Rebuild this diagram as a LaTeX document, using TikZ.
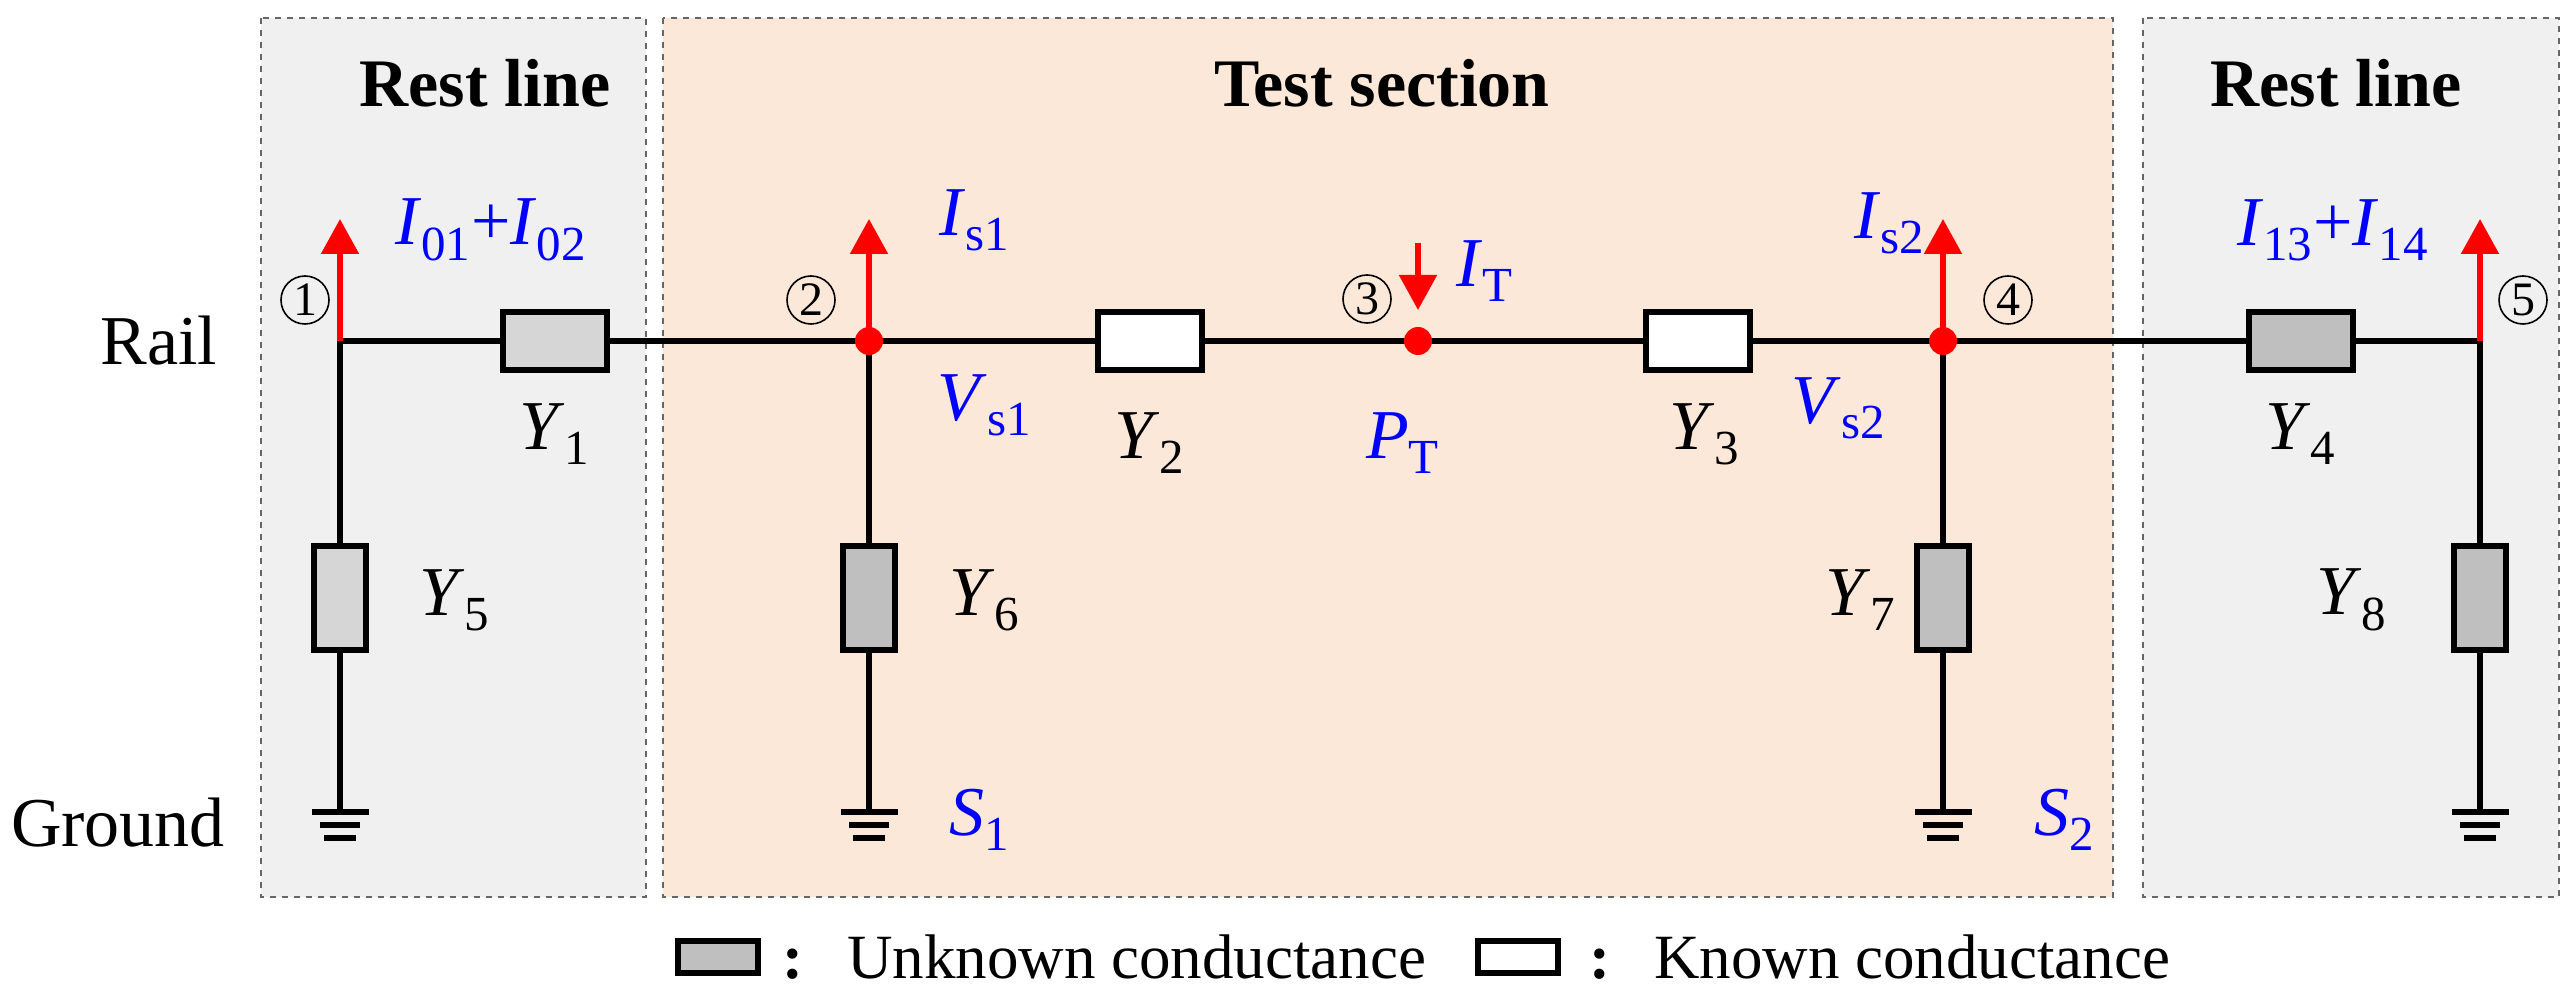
\documentclass[tikz,border=0pt]{standalone}
\usepackage{fontspec}
\setmainfont{Liberation Serif}
\usetikzlibrary{arrows.meta}
\definecolor{restfill}{HTML}{F0F0F0}
\definecolor{testfill}{HTML}{FCE8D8}
\definecolor{unk}{HTML}{BFBFBF}
\definecolor{unkl}{HTML}{D6D6D6}
\begin{document}
\begin{tikzpicture}[x=0.5pt,y=-0.5pt,
  wire/.style={line width=2.7pt,black},
  area/.style={draw=gray!80!black,dashed,line width=1.4pt},
  hres/.style={draw,line width=3pt,minimum width=52pt,minimum height=29pt,inner sep=0pt},
  vres/.style={draw,line width=3pt,minimum width=26pt,minimum height=52pt,inner sep=0pt},
  lab/.style={font=\fontsize{35}{38}\selectfont},
  blab/.style={lab,text=blue},
  title/.style={font=\fontsize{34}{38}\selectfont\bfseries},
  num/.style={circle,draw,line width=0.8pt,inner sep=0pt,minimum size=24pt,font=\fontsize{24}{26}\selectfont},
  cur/.style={red,line width=2.7pt,-{Triangle[width=18.5pt,length=17.5pt]}},
  dot/.style={circle,fill=red,inner sep=0pt,minimum size=14pt},
  gnd/.style={line width=2.8pt,black}
]
\useasboundingbox (0,0) rectangle (2574,999);
% areas
\draw[area,fill=restfill] (261,18) rectangle (646,897);
\draw[area,fill=testfill] (663,18) rectangle (2113,897);
\draw[area,fill=restfill] (2143,18) rectangle (2559,897);
\node[title] (t1) at (485,83) {Rest line};
\node[title] (t2) at (1382,83) {Test section};
\node[title] (t3) at (2336,83) {Rest line};
\node[lab] (rail) at (159,341) {Rail};
\node[lab] (ground) at (118,823) {Ground};
% nodes
\coordinate (n1) at (340,341);
\coordinate (n2) at (869,341);
\coordinate (n3) at (1418,341);
\coordinate (n4) at (1943,341);
\coordinate (n5) at (2480,341);
\node[hres,fill=unkl] (Y1) at (555,341) {};
\node[hres,fill=white] (Y2) at (1150,341) {};
\node[hres,fill=white] (Y3) at (1698,341) {};
\node[hres,fill=unk] (Y4) at (2301,341) {};
\node[vres,fill=unkl] (Y5) at (340,598) {};
\node[vres,fill=unk] (Y6) at (869,598) {};
\node[vres,fill=unk] (Y7) at (1943,598) {};
\node[vres,fill=unk] (Y8) at (2480,598) {};
\coordinate (g1) at (340,812);
\coordinate (g2) at (869,812);
\coordinate (g3) at (1943,812);
\coordinate (g4) at (2480,812);
% wires
\draw[wire] (n1) -- (Y1) -- (n2) -- (Y2) -- (n3) -- (Y3) -- (n4) -- (Y4) -- (n5);
\foreach \a/\r/\g in {n1/Y5/g1,n2/Y6/g2,n4/Y7/g3,n5/Y8/g4}{
  \draw[wire] (\a) -- (\r.north);
  \draw[wire] (\r.south) -- (\g);
  \draw[gnd] ([shift={(-28.5,0)}]\g) -- ([shift={(28.5,0)}]\g);
  \draw[gnd] ([shift={(-20,13)}]\g) -- ([shift={(20,13)}]\g);
  \draw[gnd] ([shift={(-16,26)}]\g) -- ([shift={(16,26)}]\g);
}
% currents
\coordinate (a1) at (340,219);
\coordinate (a2) at (869,219);
\coordinate (a4) at (1943,219);
\coordinate (a5) at (2480,219);
\coordinate (aT) at (1418,243);
\coordinate (bT) at (1418,310);
\draw[cur] (n1) -- (a1);
\draw[cur] (n2) -- (a2);
\draw[cur] (n4) -- (a4);
\draw[cur] (n5) -- (a5);
\draw[cur] (aT) -- (bT);
\node[dot] (d2) at (n2) {};
\node[dot] (d3) at (n3) {};
\node[dot] (d4) at (n4) {};
% numbers
\node[num] (c1) at (305,300) {1};
\node[num] (c2) at (811,300) {2};
\node[num] (c3) at (1367,299) {3};
\node[num] (c4) at (2008,300) {4};
\node[num] (c5) at (2523,300) {5};
% labels
\node[lab] (lY1) at (555,434) {\textit{Y}\textsubscript{1}};
\node[lab] (lY2) at (1150,443) {\textit{Y}\textsubscript{2}};
\node[lab] (lY3) at (1705,434) {\textit{Y}\textsubscript{3}};
\node[lab] (lY4) at (2301,434) {\textit{Y}\textsubscript{4}};
\node[lab] (lY5) at (455,600) {\textit{Y}\textsubscript{5}};
\node[lab] (lY6) at (985,600) {\textit{Y}\textsubscript{6}};
\node[lab] (lY7) at (1861,600) {\textit{Y}\textsubscript{7}};
\node[lab] (lY8) at (2352,600) {\textit{Y}\textsubscript{8}};
\node[blab] (lI1) at (491,230) {\textit{I}\textsubscript{01}+\textit{I}\textsubscript{02}};
\node[blab] (lIs1) at (975,220) {\textit{I}\textsubscript{s1}};
\node[blab] (lVs1) at (985,405) {\textit{V}\textsubscript{s1}};
\node[blab] (lS1) at (980,820) {\textit{S}\textsubscript{1}};
\node[blab] (lIT) at (1485,271) {\textit{I}\textsubscript{T}};
\node[blab] (lPT) at (1403,443) {\textit{P}\textsubscript{T}};
\node[blab] (lVs2) at (1839,408) {\textit{V}\textsubscript{s2}};
\node[blab] (lIs2) at (1890,223) {\textit{I}\textsubscript{s2}};
\node[blab] (lS2) at (2065,820) {\textit{S}\textsubscript{2}};
\node[blab] (lI2) at (2333,230) {\textit{I}\textsubscript{13}+\textit{I}\textsubscript{14}};
% legend
\node[draw,line width=3pt,fill=unk,minimum width=40pt,minimum height=16pt,inner sep=0pt] (L1) at (718,957) {};
\node[font=\fontsize{31.5}{34}\selectfont,anchor=west] (L1t) at (775,957) {\textbf{:}\hspace{0.7em}Unknown conductance};
\node[draw,line width=3pt,fill=white,minimum width=40pt,minimum height=16pt,inner sep=0pt] (L2) at (1518,957) {};
\node[font=\fontsize{31.5}{34}\selectfont,anchor=west] (L2t) at (1582,957) {\textbf{:}\hspace{0.7em}Known conductance};
\end{tikzpicture}
\end{document}
